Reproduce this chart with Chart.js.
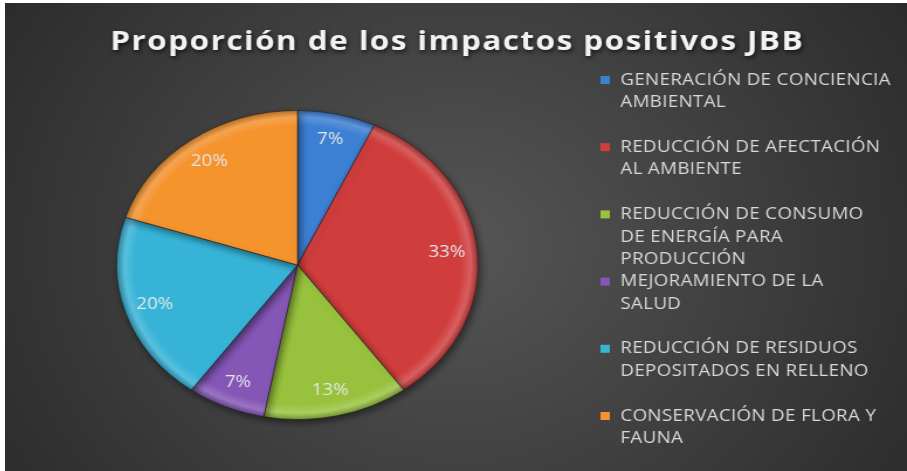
<!DOCTYPE html>
<html lang="es">
<head>
<meta charset="UTF-8">
<title>Proporción de los impactos positivos JBB</title>
<script src="https://cdn.jsdelivr.net/npm/chart.js"></script>
<style>
  body { margin: 0; background: #ffffff; }
  #wrap { position: absolute; left: 5px; top: 3px; }
  #impactChart { display: block; }
</style>
</head>
<body>
<!-- drawn narrow and stretched sideways, like the original slide export -->
<div id="wrap"><canvas id="impactChart" width="771" height="468" style="width:902px;height:468px"></canvas></div>
<script>
const chartTitle = 'Proporción de los impactos positivos JBB';

const categories = [
    ['GENERACIÓN DE CONCIENCIA', 'AMBIENTAL'],
    ['REDUCCIÓN DE AFECTACIÓN', 'AL AMBIENTE'],
    ['REDUCCIÓN DE CONSUMO', 'DE ENERGÍA PARA', 'PRODUCCIÓN'],
    ['MEJORAMIENTO DE LA', 'SALUD'],
    ['REDUCCIÓN DE RESIDUOS', 'DEPOSITADOS EN RELLENO'],
    ['CONSERVACIÓN DE FLORA Y', 'FAUNA']
];
const percentages = [7, 33, 13, 7, 20, 20];
const sliceColors = ['#3c80d4', '#d03d3d', '#98c23e', '#8456b6', '#37b3d7', '#f5932d'];

const FONT = '"Open Sans", "DejaVu Sans", sans-serif';

function shade(hex, amt) {
    const n = parseInt(hex.slice(1), 16);
    const c = [(n >> 16) & 255, (n >> 8) & 255, n & 255].map(v =>
        Math.max(0, Math.min(255, Math.round(amt >= 0 ? v + (255 - v) * amt : v * (1 + amt)))));
    return `rgb(${c[0]},${c[1]},${c[2]})`;
}

// beveled fill: flat body, light rim, dark outer edge
function sliceFill(context) {
    const chart = context.chart;
    const area = chart.chartArea;
    if (!area) return sliceColors[context.dataIndex];
    const base = sliceColors[context.dataIndex];
    const cx = (area.left + area.right) / 2, cy = (area.top + area.bottom) / 2;
    const r = Math.min(area.right - area.left, area.bottom - area.top) / 2;
    const g = chart.ctx.createRadialGradient(cx, cy, 0, cx, cy, r);
    g.addColorStop(0, base);
    g.addColorStop(0.9, base);
    g.addColorStop(0.955, shade(base, 0.18));
    g.addColorStop(1, shade(base, -0.25));
    return g;
}

const background = {
    id: 'background',
    beforeDraw(chart) {
        const {ctx, width, height} = chart;
        const g = ctx.createRadialGradient(width * 0.5, height * 0.52, 0, width * 0.5, height * 0.52, width * 0.62);
        g.addColorStop(0, '#565656');
        g.addColorStop(1, '#2a2a2a');
        ctx.save();
        ctx.fillStyle = g;
        ctx.fillRect(0, 0, width, height);
        ctx.restore();
    }
};

const pieShadow = {
    id: 'pieShadow',
    beforeDatasetsDraw(chart) {
        const ctx = chart.ctx;
        ctx.save();
        ctx.shadowColor = 'rgba(0,0,0,0.45)';
        ctx.shadowBlur = 6;
        ctx.shadowOffsetX = 2;
        ctx.shadowOffsetY = 3;
    },
    afterDatasetsDraw(chart) {
        chart.ctx.restore();
    }
};

const sliceLabels = {
    id: 'sliceLabels',
    afterDatasetsDraw(chart) {
        const ctx = chart.ctx;
        ctx.save();
        ctx.font = '16px ' + FONT;
        ctx.fillStyle = '#e6e6e6';
        ctx.textAlign = 'center';
        ctx.textBaseline = 'middle';
        chart.getDatasetMeta(0).data.forEach((arc, i) => {
            const p = arc.getProps(['x', 'y', 'startAngle', 'endAngle', 'outerRadius'], true);
            const mid = (p.startAngle + p.endAngle) / 2;
            const r = p.outerRadius * 0.83;
            ctx.fillText(percentages[i] + '%', p.x + Math.cos(mid) * r, p.y + Math.sin(mid) * r);
        });
        ctx.restore();
    }
};

const titleAndLegend = {
    id: 'titleAndLegend',
    afterDraw(chart) {
        const ctx = chart.ctx;
        ctx.save();
        // title
        ctx.font = 'bold 27px ' + FONT;
        ctx.letterSpacing = '1.2px';
        ctx.fillStyle = '#f2f2f2';
        ctx.textAlign = 'center';
        ctx.textBaseline = 'middle';
        ctx.shadowColor = 'rgba(0,0,0,0.7)';
        ctx.shadowBlur = 4;
        ctx.shadowOffsetX = 1;
        ctx.shadowOffsetY = 2;
        ctx.fillText(chartTitle, chart.width / 2 + 1, 39);

        // legend, fixed pitch per entry (long entries run into the next one)
        ctx.shadowColor = 'transparent';
        ctx.font = '16px ' + FONT;
        ctx.letterSpacing = '0.3px';
        ctx.textAlign = 'left';
        categories.forEach((lines, i) => {
            const y0 = 77 + i * 67.2;
            ctx.fillStyle = sliceColors[i];
            ctx.fillRect(509, y0 - 4, 8, 8);
            ctx.fillStyle = '#d9d9d9';
            lines.forEach((line, j) => ctx.fillText(line, 526, y0 + j * 22.6));
        });
        ctx.restore();
    }
};

new Chart(document.getElementById('impactChart'), {
    type: 'pie',
    data: {
        labels: categories,
        datasets: [{
            data: percentages,
            backgroundColor: sliceFill,
            borderColor: 'rgba(30,30,30,0.55)',
            borderWidth: 1,
            hoverOffset: 0
        }]
    },
    options: {
        responsive: false,
        animation: false,
        events: [],
        layout: { padding: { left: 95, right: 366, top: 107, bottom: 51 } },
        plugins: {
            legend: { display: false },
            title: { display: false },
            tooltip: { enabled: false }
        }
    },
    plugins: [background, pieShadow, sliceLabels, titleAndLegend]
});
</script>
</body>
</html>
